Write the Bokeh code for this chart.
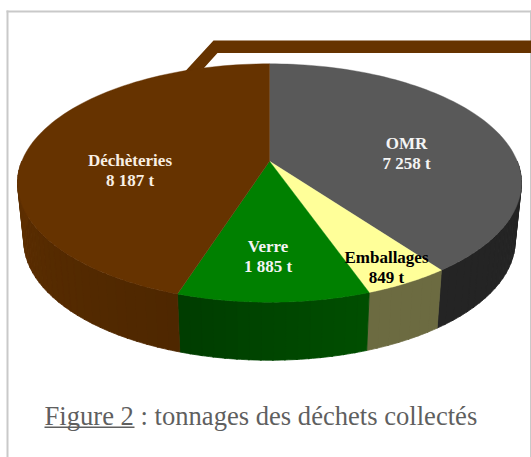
import numpy as np
from bokeh.plotting import figure
from bokeh.models import Range1d
from bokeh.embed import file_html
from bokeh.resources import INLINE

# Chart data, clockwise from 12 o'clock
names = ["OMR", "Emballages", "Verre", "Déchèteries"]
tonnes = [7258, 849, 1885, 8187]
value_labels = ["7 258 t", "849 t", "1 885 t", "8 187 t"]
top_colors = ["#595959", "#ffff99", "#008000", "#663300"]
side_start = ["#242424", "#6c6b41", "#004f00", "#4e2700"]
side_end = ["#242424", "#6c6b41", "#003c00", "#5e2f00"]
label_colors = ["#f4f4f4", "#000000", "#f4f4f4", "#f8efe4"]
label_x = [406, 386, 267.5, 129.5]
label_y = [143, 256.7, 245.7, 160]
caption_a = "Figure 2"
caption_b = " : tonnages des déchets collectés"

W, H = 531, 457
CX, CY, D, B, K = 269.0, 160.7, 247.7, 115.2, 0.183
BOTTOM_SCALE, DEPTH = 0.975, 58.0
SERIF = "Liberation Serif"


def project(theta):
    s, c = np.sin(theta), np.cos(theta)
    den = 1 + K * c
    return CX + D * s / den, CY - B * c / den


def hex_rgb(h):
    return np.array([int(h[i:i + 2], 16) for i in (1, 3, 5)], float)


p = figure(width=W, height=H, output_backend="svg", toolbar_location=None,
           x_range=Range1d(0, W), y_range=Range1d(H, 0), min_border=0,
           outline_line_color=None, background_fill_color="white",
           styles={"position": "absolute", "left": "0", "top": "0"})
p.axis.visible = False
p.grid.visible = False

# frame
p.quad(left=[6, 6, 529.5], right=[8, 531, 531], top=[10, 10, 10], bottom=[H, 12, H],
       fill_color="#c9c9c9", line_color=None)

# leader line
p.patch([213, 531, 531, 217, 203, 184.5], [40, 40, 52.5, 52.5, 68, 71],
        fill_color="#663300", line_color=None)

total = sum(tonnes)
edges = np.concatenate([[0], np.cumsum(tonnes)]) / total * 2 * np.pi

# side wall
for i in range(len(tonnes)):
    a0, a1 = edges[i], edges[i + 1]
    a0c, a1c = max(a0, np.pi / 2), min(a1, 3 * np.pi / 2)
    if a1c <= a0c:
        continue
    n = max(1, int((a1c - a0c) / 0.04))
    steps = np.linspace(a0c, a1c, n + 1)
    c0, c1 = hex_rgb(side_start[i]), hex_rgb(side_end[i])
    for j in range(n):
        t = np.linspace(steps[j], steps[j + 1] + (0.005 if j < n - 1 else 0), 4)
        x, y = project(t)
        bx = CX + (x - CX) * BOTTOM_SCALE
        by = y + DEPTH
        f = (j + 0.5) / n
        col = c0 + (c1 - c0) * f
        color = "#%02x%02x%02x" % tuple(int(round(v)) for v in col)
        p.patch(np.concatenate([x, bx[::-1]]), np.concatenate([y, by[::-1]]),
                fill_color=color, line_color=color, line_width=0.8)

# top face
for i in range(len(tonnes)):
    t = np.linspace(edges[i], edges[i + 1], 90)
    x, y = project(t)
    p.patch(np.concatenate([[CX], x]), np.concatenate([[CY], y]),
            fill_color=top_colors[i], line_color=top_colors[i], line_width=0.4)

# labels
for i in range(len(names)):
    for txt, yy in ((names[i], label_y[i]), (value_labels[i], label_y[i] + 20)):
        p.text([label_x[i]], [yy], text=[txt], text_font={"value": SERIF},
               text_font_style="bold", text_font_size="17px",
               text_color=label_colors[i], text_align="center", text_baseline="middle")

# caption
p.text([44], [415], text=[caption_a + caption_b], text_font={"value": SERIF},
       text_font_size="26.6px", text_color="#5f5f5f", text_align="left", text_baseline="middle")
p.segment([44], [426.8], [134], [426.8], line_color="#5f5f5f", line_width=1.6)

open("out.html", "w").write(file_html(p, INLINE))
